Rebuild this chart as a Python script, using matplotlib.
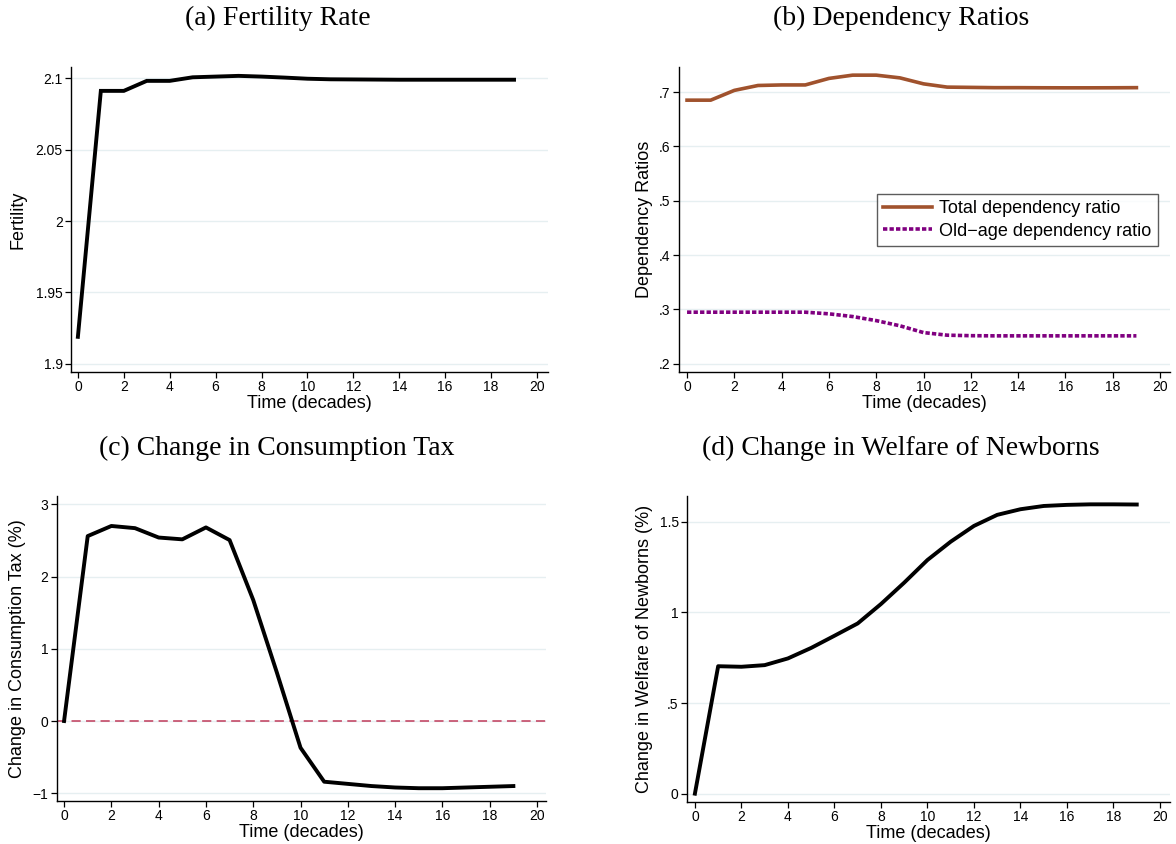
import matplotlib
matplotlib.use("Agg")
import matplotlib.pyplot as plt
import numpy as np

# ---------------- data ----------------
time = list(range(20))
fertility = [1.919, 2.091, 2.091, 2.098, 2.098, 2.1005, 2.101, 2.1015, 2.101, 2.1003,
             2.0995, 2.0991, 2.099, 2.0989, 2.0988, 2.0988, 2.0988, 2.0988, 2.0988, 2.0988]
total_dep = [0.685, 0.685, 0.703, 0.712, 0.713, 0.713, 0.725, 0.731, 0.731, 0.726,
             0.715, 0.709, 0.7085, 0.708, 0.708, 0.7078, 0.7077, 0.7077, 0.7078, 0.708]
oldage_dep = [0.295, 0.295, 0.295, 0.295, 0.295, 0.295, 0.292, 0.287, 0.2795, 0.27,
              0.2575, 0.2527, 0.2518, 0.2515, 0.2515, 0.2515, 0.2515, 0.2515, 0.2515, 0.2515]
cons_tax = [0.0, 2.56, 2.70, 2.67, 2.54, 2.515, 2.68, 2.505, 1.675, 0.67,
            -0.37, -0.84, -0.87, -0.90, -0.92, -0.93, -0.93, -0.92, -0.91, -0.90]
welfare = [0.0, 0.703, 0.70, 0.709, 0.746, 0.804, 0.871, 0.939, 1.046, 1.164,
           1.289, 1.39, 1.477, 1.538, 1.569, 1.587, 1.593, 1.596, 1.596, 1.595]

x_ticks = list(range(0, 21, 2))
fert_ticks = [1.9, 1.95, 2.0, 2.05, 2.1]
fert_labels = ["1.9", "1.95", "2", "2.05", "2.1"]
dep_ticks = [0.2, 0.3, 0.4, 0.5, 0.6, 0.7]
dep_labels = [".2", ".3", ".4", ".5", ".6", ".7"]
tax_ticks = [-1, 0, 1, 2, 3]
tax_labels = ["\u22121", "0", "1", "2", "3"]
wel_ticks = [0, 0.5, 1, 1.5]
wel_labels = ["0", ".5", "1", "1.5"]

titles = ["(a) Fertility Rate", "(b) Dependency Ratios",
          "(c) Change in Consumption Tax", "(d) Change in Welfare of Newborns"]
ylabels = ["Fertility", "Dependency Ratios",
           "Change in Consumption Tax (%)", "Change in Welfare of Newborns (%)"]
xlabel = "Time (decades)"
legend_labels = ["Total dependency ratio", "Old\u2212age dependency ratio"]

# ---------------- style ----------------
W, H = 1176, 844
plt.rcParams["font.family"] = ["Liberation Sans", "DejaVu Sans"]
fig = plt.figure(figsize=(W / 100, H / 100), dpi=100)

GRID = "#e6eff1"


def rect(l, t, r, b):
    return [l / W, 1 - b / H, (r - l) / W, (b - t) / H]


def style(ax, xlim, ylim, yt, yl, ylab, ylab_x, top, bottom, left, right):
    ax.set_xlim(*xlim)
    ax.set_ylim(*ylim)
    ax.set_xticks(x_ticks)
    ax.set_yticks(yt)
    ax.set_yticklabels(yl)
    for s in ["top", "right"]:
        ax.spines[s].set_visible(False)
    for s in ["left", "bottom"]:
        ax.spines[s].set_linewidth(1.0)
        ax.spines[s].set_color("black")
    ax.tick_params(axis="both", direction="out", length=4.5, width=0.9,
                   labelsize=10, pad=1.5, colors="black")
    ax.yaxis.grid(True, color=GRID, linewidth=1.0)
    ax.set_axisbelow(True)
    ax.set_xlabel(xlabel, fontsize=13, labelpad=0)
    ax.set_ylabel(ylab, fontsize=13)
    hpx = bottom - top
    wpx = right - left
    ax.xaxis.set_label_coords(0.5, -(395 - 372) / hpx)
    ax.yaxis.set_label_coords((ylab_x - left) / wpx, 0.5)


# (a)
axa = fig.add_axes(rect(71, 67, 548, 372))
axa.plot(time, fertility, color="black", lw=2.8, solid_joinstyle="miter")
style(axa, (-0.3, 20.48), (1.8944, 2.1077), fert_ticks, fert_labels, ylabels[0], 27, 67, 372, 71, 548)

# (b)
axb = fig.add_axes(rect(679, 67, 1170, 372))
axb.plot(time, total_dep, color="#a0522d", lw=2.6, label=legend_labels[0])
axb.plot(time, oldage_dep, color="#800080", lw=2.6, linestyle=(0, (1.2, 0.6)),
         label=legend_labels[1])
style(axb, (-0.34, 20.42), (0.185, 0.746), dep_ticks, dep_labels, ylabels[1], 653, 67, 372, 679, 1170)
leg = axb.legend(loc="upper left", bbox_to_anchor=((877 - 679) / 491, 1 - (194 - 67) / 305),
                 fontsize=13, frameon=True, fancybox=False, handlelength=2.7,
                 handletextpad=0.4, borderpad=0.35, labelspacing=0.3, borderaxespad=0)
leg.get_frame().set_edgecolor("#333333")
leg.get_frame().set_linewidth(1.0)

# (c)
axc = fig.add_axes(rect(56.5, 496, 546, 801))
axc.axhline(0, color="#c03a5a", lw=1.1, linestyle=(0, (6, 3.5)))
axc.plot(time, cons_tax, color="black", lw=2.8)
style(axc, (-0.32, 20.38), (-1.107, 3.115), tax_ticks, tax_labels, ylabels[2], 26, 496, 801, 56.5, 546)

# (d)
axd = fig.add_axes(rect(687, 496, 1170, 802))
axd.plot(time, welfare, color="black", lw=2.8)
style(axd, (-0.34, 20.43), (-0.046, 1.642), wel_ticks, wel_labels, ylabels[3], 653, 496, 802, 687, 1170)

# titles
title_pos = [(278, 18), (901, 18), (277, 448), (901, 448)]
for t, (x, y) in zip(titles, title_pos):
    fig.text(x / W, 1 - y / H, t, ha="center", va="center", fontsize=20,
             family=["Liberation Serif", "DejaVu Serif"])

fig.savefig("out.png", dpi=100)
